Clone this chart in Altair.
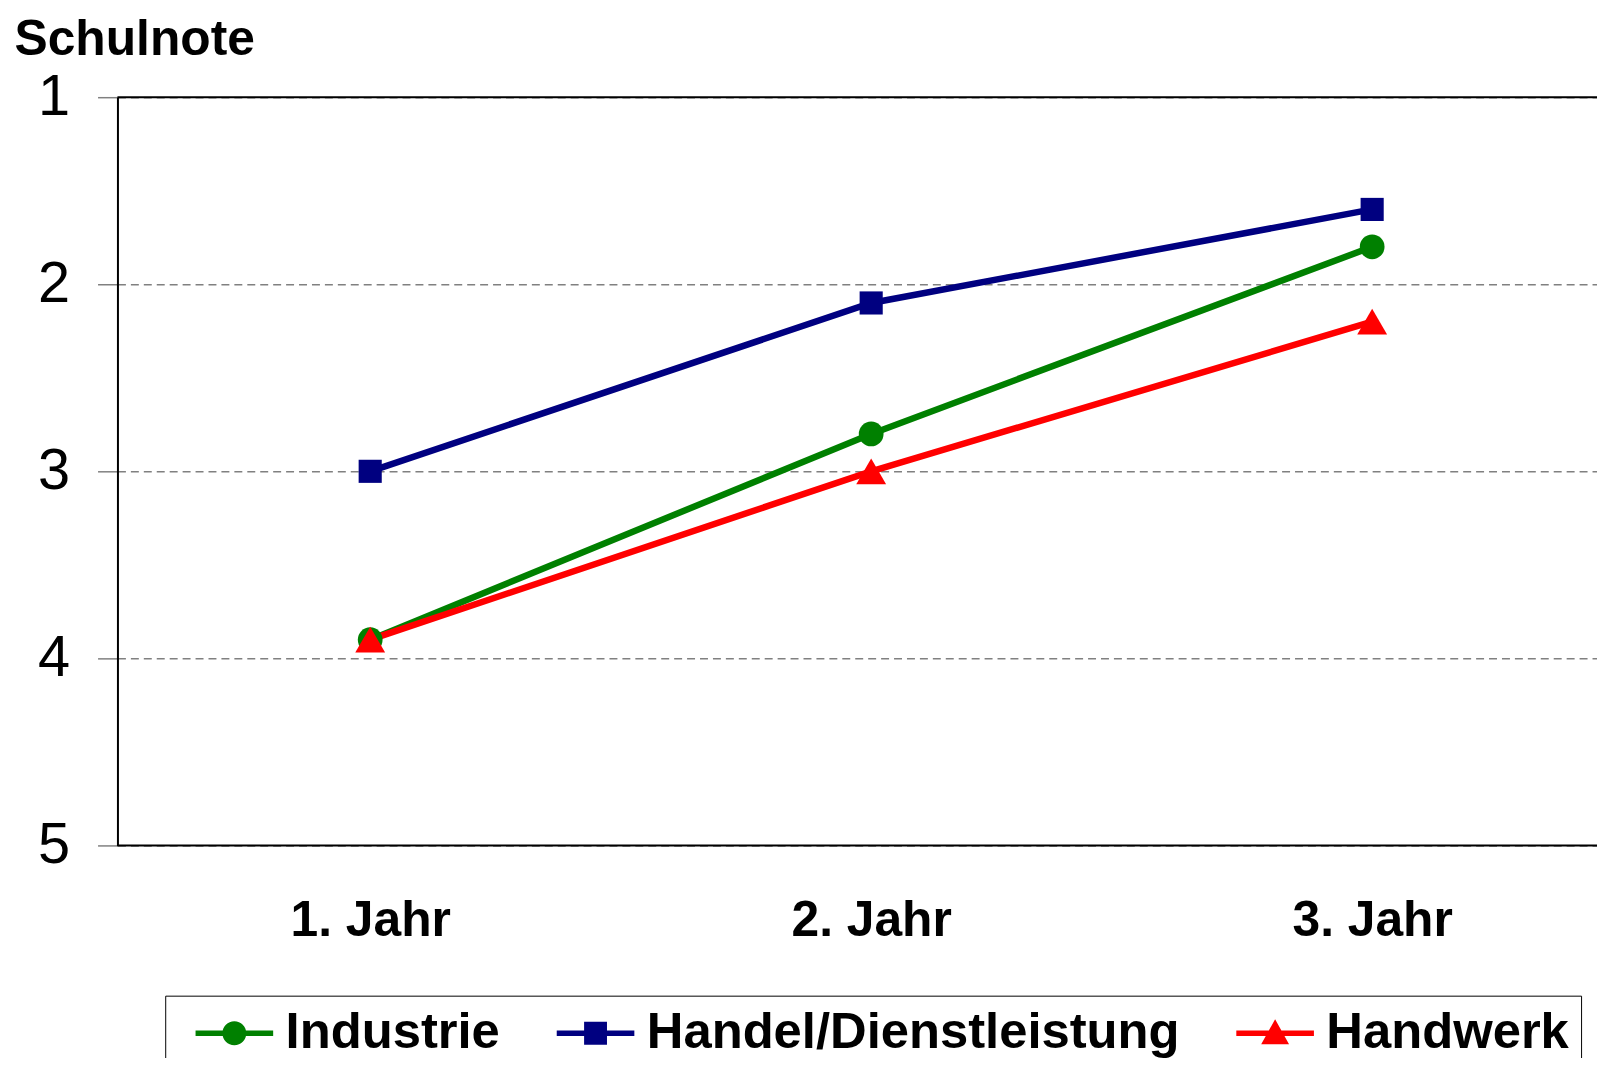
import json
import altair as alt
import pandas as pd

years = ["1. Jahr", "2. Jahr", "3. Jahr"]
series = ["Industrie", "Handel/Dienstleistung", "Handwerk"]
industrie = [3.9, 2.8, 1.8]
handel = [3.0, 2.1, 1.6]
handwerk = [3.9, 3.0, 2.2]
colors = ["#008000", "#000080", "#FF0000"]
y_ticks = [1, 2, 3, 4, 5]
y_title = "Schulnote"
borders = [1, 5]

rows = []
for name, vals in zip(series, [industrie, handel, handwerk]):
    for i, (yr, v) in enumerate(zip(years, vals)):
        rows.append({"Jahr": yr, "Pos": i + 1, "Note": v, "Branche": name})
df = pd.DataFrame(rows)

FONT = "Liberation Sans"

color_scale = alt.Scale(domain=series, range=colors)

x_enc = alt.X(
    "Pos:Q",
    scale=alt.Scale(domain=[0.4955, 3.4488], nice=False, zero=False),
    axis=alt.Axis(title=None, values=[1, 2, 3], labelExpr=json.dumps(years) + "[datum.value - 1]",
                  ticks=False, domain=False, grid=False, labelAngle=0, labelFlush=False,
                  labelFont=FONT, labelFontSize=50, labelFontWeight="bold",
                  labelColor="black", labelPadding=91, labelBaseline="alphabetic"),
)
y_enc = alt.Y(
    "Note:Q",
    scale=alt.Scale(domain=[1, 5], reverse=True, nice=False, zero=False),
    axis=alt.Axis(values=y_ticks, format="d", title=y_title, titleAngle=0,
                  titleX=-104, titleY=-43, titleAlign="left", titleBaseline="alphabetic",
                  titleFont=FONT, titleFontSize=50, titleFontWeight="bold", titleColor="black",
                  labelFont=FONT, labelFontSize=58, labelColor="black", labelPadding=28,
                  tickSize=20, tickColor="#808080", tickWidth=1.5,
                  domainColor="black", domainWidth=2,
                  grid=True, gridColor="#808080", gridDash=[8, 5], gridWidth=1.5),
)

lines = alt.Chart(df).mark_line(strokeWidth=6.5).encode(
    x=x_enc, y=y_enc,
    color=alt.Color("Branche:N", scale=color_scale, legend=None),
)

marker_shapes = ["circle", "square", "triangle-up"]
marker_sizes = [620, 540, 900]
point_layers = []
for name, shp, sz in zip(series, marker_shapes, marker_sizes):
    point_layers.append(
        alt.Chart(df).transform_filter(alt.datum.Branche == name)
        .mark_point(filled=True, opacity=1, shape=shp, size=sz)
        .encode(x=x_enc, y=y_enc,
                color=alt.Color("Branche:N", scale=color_scale, legend=None))
    )

# legend symbols: line with marker, shifted right by 1.6 units (of 20 px)
line_part = "M-0.35,-0.14H3.55V0.14H-0.35Z "
legend_shapes = [
    line_part + "M1.0,0A0.6,0.6 0 1,1 2.2,0A0.6,0.6 0 1,1 1.0,0Z",
    line_part + "M1.025,-0.575H2.175V0.575H1.025Z",
    line_part + "M1.6,-0.7L2.3,0.55H0.9Z",
]

legend = alt.Legend(title=None, orient="none", legendX=48, legendY=903, direction="horizontal",
                    labelFont=FONT, labelFontSize=51, labelFontWeight="bold", labelColor="black",
                    labelLimit=2000, labelOffset=58, symbolSize=1600, symbolStrokeWidth=0,
                    symbolOpacity=1, columnPadding=38, padding=12,
                    strokeColor="black", fillColor="white")

legend_layer = alt.Chart(df).mark_point(filled=True, opacity=1, size=0).encode(
    x=x_enc, y=y_enc,
    color=alt.Color("Branche:N", scale=color_scale, legend=legend),
    shape=alt.Shape("Branche:N", scale=alt.Scale(domain=series, range=legend_shapes), legend=legend),
)

rules = alt.Chart(pd.DataFrame({"Note": borders})).mark_rule(color="black", strokeWidth=2).encode(
    y=alt.Y("Note:Q")
)

chart = alt.layer(lines, *point_layers, legend_layer, rules).resolve_scale(
    color="independent", shape="independent"
).properties(
    width=1487, height=752,
    autosize=alt.AutoSizeParams(type="none"),
    padding={"left": 110, "top": 87, "right": 0, "bottom": 211},
    background="white",
).configure_view(stroke="transparent")

chart.save("out.html", embed_options={"renderer": "svg", "actions": False})
